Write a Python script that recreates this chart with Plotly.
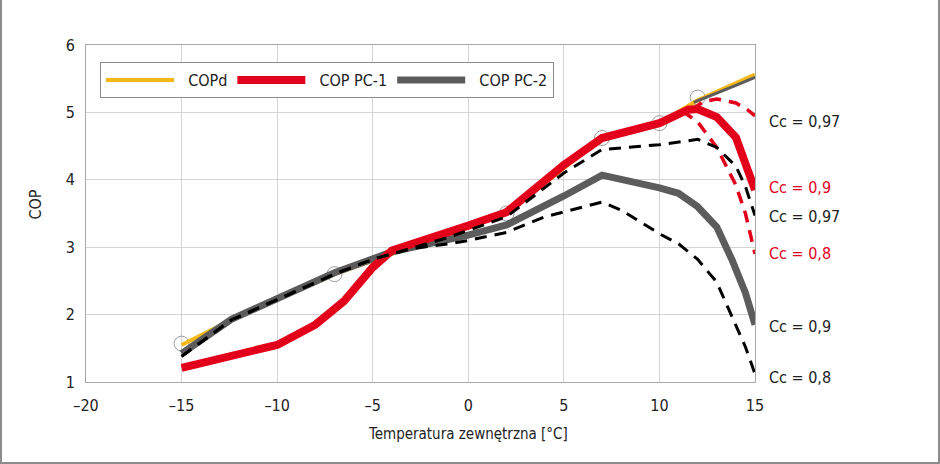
import plotly.graph_objects as go

# ---- data ----
copd_x = [-15, -12.4, -7, 2, 7, 10, 12, 15]
copd_y = [1.55, 1.92, 2.6, 3.5, 4.62, 4.84, 5.18, 5.56]

circle_x = [-15, -7, 2, 7, 10, 12]
circle_y = [1.57, 2.6, 3.5, 4.62, 4.84, 5.22]

pc1_x = [-15, -12.5, -10, -8, -6.5, -5, -4, 0, 2, 5, 7, 10, 11.5, 12, 13, 14, 14.5, 15]
pc1_y = [1.21, 1.37, 1.55, 1.85, 2.2, 2.7, 2.95, 3.32, 3.52, 4.22, 4.62, 4.84, 5.04, 5.05, 4.93, 4.63, 4.25, 3.85]

pc1_097_x = [11.7, 12.3, 13, 14, 14.6, 15]
pc1_097_y = [5.04, 5.16, 5.2, 5.14, 5.04, 4.95]

pc1_08_x = [11.2, 12, 13, 14, 14.5, 15]
pc1_08_y = [5.02, 4.86, 4.48, 3.92, 3.5, 2.9]

pc2_x = [-15, -12.4, -7, -5, -4, 0, 2, 5, 7, 10, 11, 12, 13, 13.8, 14.5, 15]
pc2_y = [1.42, 1.93, 2.62, 2.84, 2.93, 3.18, 3.33, 3.76, 4.07, 3.88, 3.8, 3.6, 3.3, 2.81, 2.32, 1.85]

pc2_top_x = [11.8, 13, 14, 15]
pc2_top_y = [5.15, 5.28, 5.4, 5.52]

pc2_097_x = [-15, -12.4, -7, -5, -3, -1, 0, 2, 5, 7, 10, 12, 13, 14, 14.5, 15]
pc2_097_y = [1.38, 1.92, 2.6, 2.82, 2.98, 3.15, 3.25, 3.45, 4.1, 4.45, 4.52, 4.6, 4.48, 4.2, 3.9, 3.47]

pc2_08_x = [-15, -12.4, -7, -5, -3, -1, 0, 2, 4, 7, 8, 9, 10, 11, 12, 13, 14, 14.5, 15]
pc2_08_y = [1.38, 1.92, 2.6, 2.82, 2.98, 3.05, 3.1, 3.22, 3.45, 3.67, 3.55, 3.38, 3.2, 3.05, 2.82, 2.48, 1.85, 1.52, 1.12]

label_texts = ["Cc = 0,97", "Cc = 0,9", "Cc = 0,97", "Cc = 0,8", "Cc = 0,9", "Cc = 0,8"]
label_colors = ["#222222", "#e3001b", "#222222", "#e3001b", "#222222", "#222222"]
label_pos = [4.86, 3.89, 3.45, 2.91, 1.83, 1.07]

x_ticks = [-20, -15, -10, -5, 0, 5, 10, 15]
x_ticktext = ["–20", "–15", "–10", "–5", "0", "5", "10", "15"]
y_ticks = [1, 2, 3, 4, 5, 6]

FONT = "DejaVu Sans Condensed, Liberation Sans Narrow, sans-serif"
RED = "#e3001b"
GRAY = "#5c5c5c"
YEL = "#f5b817"
SP = "\u00a0\u00a0"

fig = go.Figure()
fig.add_trace(go.Scatter(x=circle_x, y=circle_y, mode="markers", showlegend=False,
                         marker=dict(size=15, color="rgba(255,255,255,0)",
                                     line=dict(color="#9a9a9a", width=1))))
fig.add_trace(go.Scatter(x=copd_x, y=copd_y, mode="lines", name=SP + "COPd", legendrank=1,
                         line=dict(color=YEL, width=4)))
fig.add_trace(go.Scatter(x=pc2_x, y=pc2_y, mode="lines", name=SP + "COP PC-2", legendrank=3,
                         line=dict(color=GRAY, width=7)))
fig.add_trace(go.Scatter(x=pc2_top_x, y=pc2_top_y, mode="lines", showlegend=False,
                         line=dict(color=GRAY, width=3)))
fig.add_trace(go.Scatter(x=pc1_x, y=pc1_y, mode="lines", name=SP + "COP PC-1", legendrank=2,
                         line=dict(color=RED, width=8)))
fig.add_trace(go.Scatter(x=pc1_097_x, y=pc1_097_y, mode="lines", showlegend=False,
                         line=dict(color=RED, width=3.5, dash="12px,8px")))
fig.add_trace(go.Scatter(x=pc1_08_x, y=pc1_08_y, mode="lines", showlegend=False,
                         line=dict(color=RED, width=3.5, dash="12px,8px")))
fig.add_trace(go.Scatter(x=pc2_097_x, y=pc2_097_y, mode="lines", showlegend=False,
                         line=dict(color="#000000", width=3, dash="12px,8px")))
fig.add_trace(go.Scatter(x=pc2_08_x, y=pc2_08_y, mode="lines", showlegend=False,
                         line=dict(color="#000000", width=3, dash="12px,8px")))

annotations = []
for t, c, p in zip(label_texts, label_colors, label_pos):
    annotations.append(dict(x=15, y=p, xref="x", yref="y", text=t, showarrow=False,
                            xanchor="left", xshift=12, font=dict(family=FONT, size=16, color=c)))
annotations.append(dict(x=0, y=-0.122, xref="x", yref="paper", text="Temperatura zewnętrzna [°C]",
                        showarrow=False, yanchor="top", font=dict(family=FONT, size=15, color="#222")))
annotations.append(dict(x=(24 - 86) / 669, y=0.525, xref="paper", yref="paper", text="COP",
                        textangle=-90, showarrow=False, font=dict(family=FONT, size=16, color="#222")))

pw, ph = 669, 337
ml, mt, mb = 86, 45, 82
shapes = [dict(type="rect", xref="paper", yref="paper",
               x0=-(ml - 1) / pw, x1=(940 - ml - 1) / pw,
               y0=-(mb - 1) / ph, y1=(464 - mt - 1) / ph,
               line=dict(color="#8c8c8c", width=2), layer="above")]

fig.update_layout(
    width=940, height=464,
    margin=dict(l=ml, r=940 - ml - pw, t=mt, b=mb),
    paper_bgcolor="white", plot_bgcolor="white",
    font=dict(family=FONT, size=16, color="#222"),
    showlegend=True,
    legend=dict(orientation="h", x=14 / 669, y=(382 - 62) / 337, xanchor="left", yanchor="top",
                bgcolor="white", bordercolor="#8c8c8c", borderwidth=1,
                itemwidth=68, font=dict(family=FONT, size=16, color="#222"),
                tracegroupgap=0),
    annotations=annotations, shapes=shapes,
)
fig.update_xaxes(range=[-20, 15], tickvals=x_ticks, ticktext=x_ticktext,
                 showgrid=True, gridcolor="#d4d4d4", gridwidth=1,
                 showline=True, linecolor="#a8a8a8", linewidth=1, mirror=True,
                 zeroline=False, ticks="", ticklabelstandoff=9,
                 tickfont=dict(family=FONT, size=16, color="#222"))
fig.update_yaxes(range=[1, 6], tickvals=y_ticks,
                 showgrid=True, gridcolor="#d4d4d4", gridwidth=1,
                 showline=True, linecolor="#a8a8a8", linewidth=1, mirror=True,
                 zeroline=False, ticks="", ticklabelstandoff=7,
                 tickfont=dict(family=FONT, size=16, color="#222"))

fig.write_html("out.html")
